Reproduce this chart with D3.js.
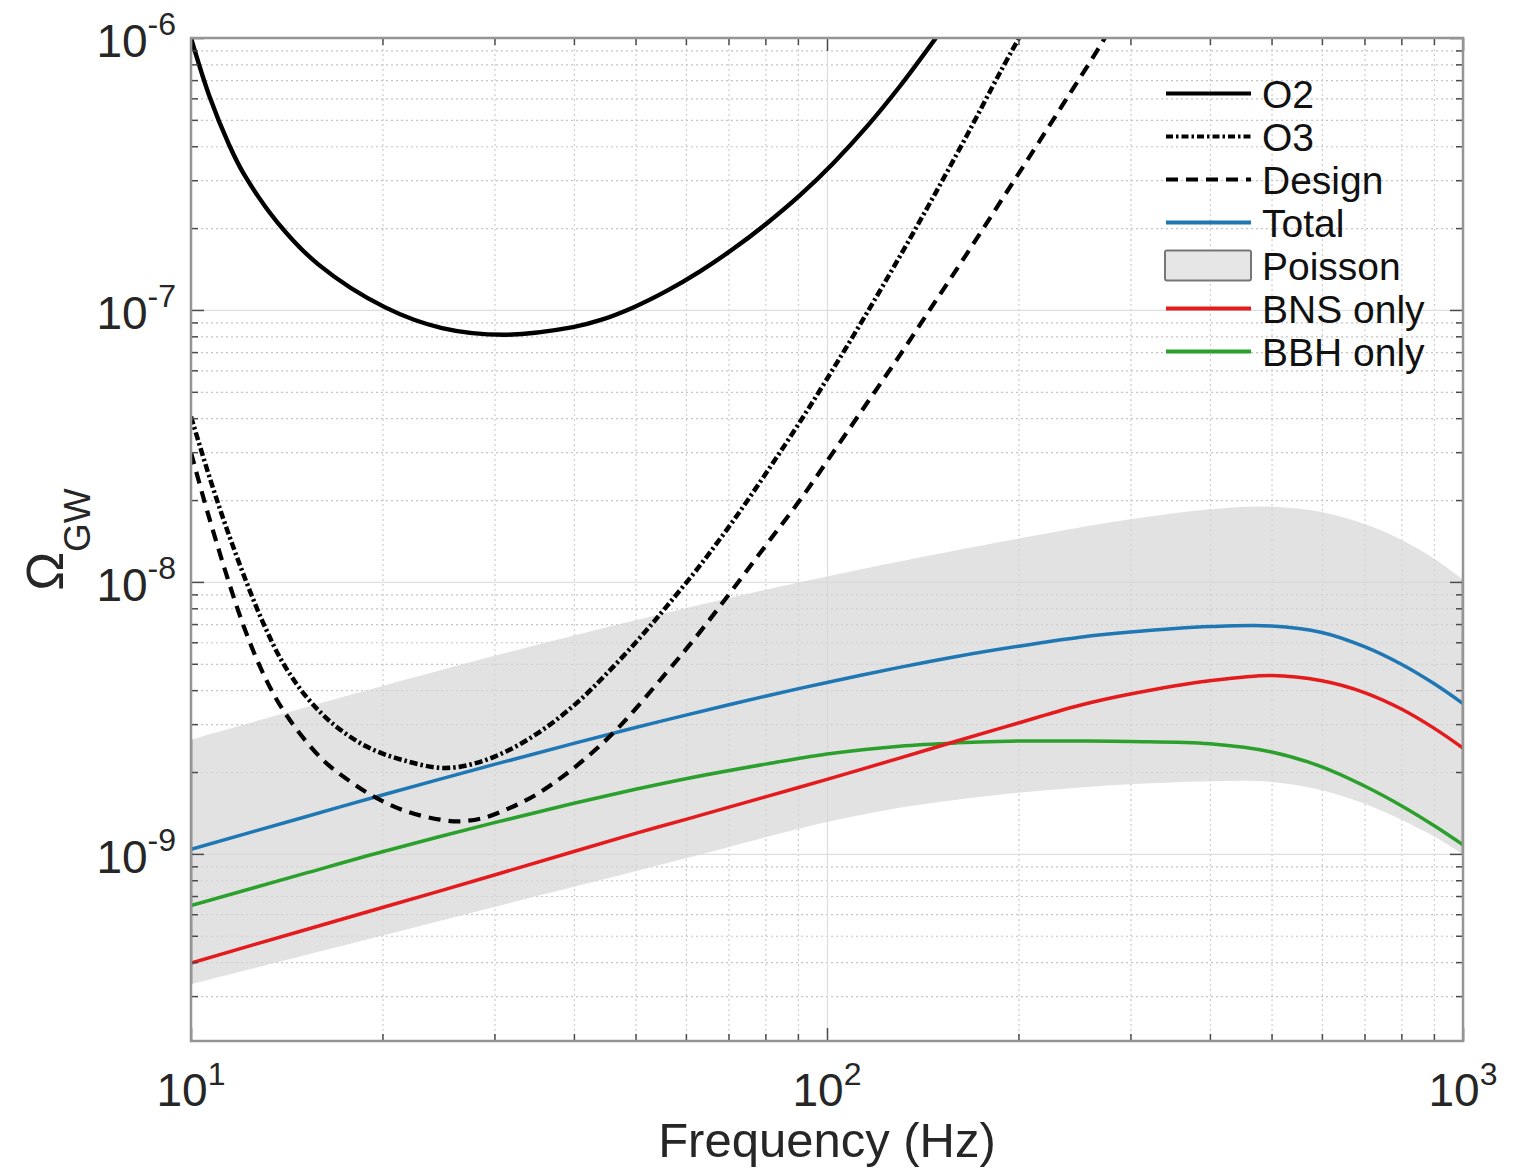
<!DOCTYPE html>
<html>
<head>
<meta charset="utf-8">
<script src="https://cdn.jsdelivr.net/npm/d3@7"></script>
<style>
  body { margin: 0; background: #fff; }
  svg { display: block; font-family: "Liberation Sans", Arial, Helvetica, sans-serif; }
</style>
</head>
<body>
<svg id="chart" width="1522" height="1170"></svg>
<script>
// ---- Data: frequency (Hz) and energy density Omega_GW ----
const freqGrid = [10, 15, 20, 30, 40, 50, 60, 80, 100, 130, 160, 200, 250, 300, 400, 500, 600, 700, 800, 900, 1000];

const totalOmega = [1.04e-9, 1.361e-9, 1.646e-9, 2.133e-9, 2.549e-9, 2.914e-9, 3.239e-9, 3.80e-9, 4.27e-9, 4.85e-9, 5.32e-9,
                    5.80e-9, 6.26e-9, 6.54e-9, 6.85e-9, 6.89e-9, 6.52e-9, 5.78e-9, 4.98e-9, 4.23e-9, 3.57e-9];
const bnsOmega   = [3.97e-10, 5.23e-10, 6.35e-10, 8.36e-10, 1.02e-9, 1.19e-9, 1.34e-9, 1.62e-9, 1.88e-9, 2.25e-9, 2.60e-9,
                    3.03e-9, 3.52e-9, 3.87e-9, 4.33e-9, 4.53e-9, 4.33e-9, 3.92e-9, 3.41e-9, 2.90e-9, 2.45e-9];
const bbhOmega   = [6.46e-10, 8.44e-10, 1.018e-9, 1.303e-9, 1.535e-9, 1.728e-9, 1.89e-9, 2.138e-9, 2.33e-9, 2.49e-9, 2.56e-9,
                    2.60e-9, 2.60e-9, 2.59e-9, 2.54e-9, 2.37e-9, 2.09e-9, 1.777e-9, 1.504e-9, 1.272e-9, 1.08e-9];
const poissonUpper = [2.63e-9, 3.437e-9, 4.144e-9, 5.35e-9, 6.36e-9, 7.235e-9, 8.01e-9, 9.36e-9, 1.048e-8, 1.189e-8, 1.308e-8,
                      1.443e-8, 1.585e-8, 1.699e-8, 1.849e-8, 1.89e-8, 1.805e-8, 1.634e-8, 1.43e-8, 1.22e-8, 1.02e-8];
const poissonLower = [3.32e-10, 4.22e-10, 5.01e-10, 6.38e-10, 7.57e-10, 8.64e-10, 9.63e-10, 1.151e-9, 1.31e-9, 1.478e-9, 1.583e-9,
                      1.677e-9, 1.754e-9, 1.803e-9, 1.85e-9, 1.838e-9, 1.715e-9, 1.528e-9, 1.336e-9, 1.16e-9, 9.96e-10];

// Power-law integrated sensitivity curves
const o2Freq  = [10, 10.69, 11.47, 12.08, 13.67, 15.87, 20.2, 24.81, 31.17, 39.87, 43.97, 49.6, 55.97, 63.15, 71.24,
                 80.37, 90.7, 102.3, 115.4, 130.3, 148.3];
const o2Omega = [1.0e-6, 6.11e-7, 4.066e-7, 3.193e-7, 2.101e-7, 1.468e-7, 1.022e-7, 8.58e-8, 8.11e-8, 8.645e-8, 9.17e-8,
                 1.022e-7, 1.175e-7, 1.387e-7, 1.678e-7, 2.08e-7, 2.643e-7, 3.465e-7, 4.71e-7, 6.66e-7, 1.0e-6];

const o3Freq  = [10, 10.71, 11.38, 12.16, 12.99, 13.97, 15.2, 16.74, 18.89, 21.57, 24.93, 28.13, 31.74, 35.81, 40.42,
                 45.04, 50.51, 55.97, 63.15, 71.24, 80.37, 90.7, 102.3, 115.4, 130.3, 146.9, 165.9, 187.1, 200.4];
const o3Omega = [4.05e-8, 2.40e-8, 1.57e-8, 1.03e-8, 7.06e-9, 5.01e-9, 3.77e-9, 3.0e-9, 2.48e-9, 2.21e-9, 2.07e-9,
                 2.16e-9, 2.42e-9, 2.87e-9, 3.59e-9, 4.60e-9, 6.14e-9, 8.13e-9, 1.15e-8, 1.68e-8, 2.53e-8, 3.88e-8,
                 6.08e-8, 9.7e-8, 1.58e-7, 2.6e-7, 4.38e-7, 7.47e-7, 1.0e-6];

const designFreq  = [10, 10.52, 10.97, 11.45, 12.08, 12.84, 13.64, 14.66, 16.14, 17.78, 19.59, 21.84, 24.63, 26.48,
                     28.81, 31.74, 34.96, 38.49, 42.41, 46.93, 55.97, 63.15, 71.24, 80.37, 90.7, 102.3, 115.4, 130.3,
                     146.9, 165.9, 187.1, 211.1, 238.2, 268.7, 278.6];
const designOmega = [2.99e-8, 1.945e-8, 1.396e-8, 1.009e-8, 6.95e-9, 4.88e-9, 3.69e-9, 2.87e-9, 2.21e-9, 1.849e-9,
                     1.603e-9, 1.432e-9, 1.337e-9, 1.318e-9, 1.355e-9, 1.476e-9, 1.656e-9, 1.932e-9, 2.32e-9, 2.90e-9,
                     4.65e-9, 6.55e-9, 9.45e-9, 1.375e-8, 2.0e-8, 3.0e-8, 4.52e-8, 6.84e-8, 1.046e-7, 1.609e-7,
                     2.486e-7, 3.85e-7, 5.99e-7, 9.34e-7, 1.08e-6];

// Axis ticks
const xMajorTicks = [10, 100, 1000];
const xMajorExp   = ["1", "2", "3"];
const xMinorTicks = [20, 30, 40, 50, 60, 70, 80, 90, 200, 300, 400, 500, 600, 700, 800, 900];
const yMajorTicks = [1e-9, 1e-8, 1e-7, 1e-6];
const yMajorExp   = ["-9", "-8", "-7", "-6"];
const yMinorTicks = [3e-10, 4e-10, 5e-10, 6e-10, 7e-10, 8e-10, 9e-10,
                     2e-9, 3e-9, 4e-9, 5e-9, 6e-9, 7e-9, 8e-9, 9e-9,
                     2e-8, 3e-8, 4e-8, 5e-8, 6e-8, 7e-8, 8e-8, 9e-8,
                     2e-7, 3e-7, 4e-7, 5e-7, 6e-7, 7e-7, 8e-7, 9e-7];

const legendLabels = ["O2", "O3", "Design", "Total", "Poisson", "BNS only", "BBH only"];

// ---- Layout ----
const plot = { left: 191, right: 1463, top: 38, bottom: 1041 };
const svg = d3.select("#chart");

const x = d3.scaleLog().domain([10, 1000]).range([plot.left, plot.right]);
const y = d3.scaleLog().domain([Math.pow(10, -9.688), 1e-6]).range([plot.bottom, plot.top]);

const plotW = plot.right - plot.left, plotH = plot.bottom - plot.top;

svg.append("defs").append("clipPath").attr("id", "plotClip")
  .append("rect").attr("x", plot.left).attr("y", plot.top).attr("width", plotW).attr("height", plotH);

// ---- Grid ----
function styleGrid(g, color, dash) {
  g.select(".domain").remove();
  g.selectAll(".tick line").attr("stroke", color).attr("stroke-width", 1.2)
    .attr("stroke-dasharray", dash);
}
const grid = svg.append("g");
grid.append("g").attr("transform", `translate(0,${plot.bottom})`)
  .call(d3.axisBottom(x).tickValues(xMinorTicks).tickSize(-plotH).tickFormat(""))
  .call(g => styleGrid(g, "#cdcdcd", "2,3"));
grid.append("g").attr("transform", `translate(${plot.left},0)`)
  .call(d3.axisLeft(y).tickValues(yMinorTicks).tickSize(-plotW).tickFormat(""))
  .call(g => styleGrid(g, "#c4c4c4", "2,3"));
grid.append("g").attr("transform", `translate(0,${plot.bottom})`)
  .call(d3.axisBottom(x).tickValues(xMajorTicks).tickSize(-plotH).tickFormat(""))
  .call(g => styleGrid(g, "#dedede", null));
grid.append("g").attr("transform", `translate(${plot.left},0)`)
  .call(d3.axisLeft(y).tickValues(yMajorTicks).tickSize(-plotW).tickFormat(""))
  .call(g => styleGrid(g, "#dedede", null));

// ---- Data layer ----
const data = svg.append("g").attr("clip-path", "url(#plotClip)");
const smooth = d3.curveCatmullRom.alpha(0.5);

const band = freqGrid.map((f, i) => ({ f, lo: poissonLower[i], hi: poissonUpper[i] }));
data.append("path")
  .attr("d", d3.area().x(d => x(d.f)).y0(d => y(d.lo)).y1(d => y(d.hi)).curve(smooth)(band))
  .attr("fill", "#d6d6d6").attr("fill-opacity", 0.7);

// band end edges
const bandEdge = [0, freqGrid.length - 1];
data.selectAll("line.bandEdge").data(bandEdge).join("line")
  .attr("x1", i => x(freqGrid[i])).attr("x2", i => x(freqGrid[i]))
  .attr("y1", i => y(poissonLower[i])).attr("y2", i => y(poissonUpper[i]))
  .attr("stroke", "#6a6a6a").attr("stroke-width", 2.5);

const line = d3.line().x(d => x(d[0])).y(d => y(d[1])).curve(smooth);
const zip = (a, b) => a.map((v, i) => [v, b[i]]);

const series = [
  { f: freqGrid, v: bbhOmega,   color: "#2ca02c", width: 3.5, dash: null },
  { f: freqGrid, v: bnsOmega,   color: "#e41a1c", width: 3.5, dash: null },
  { f: freqGrid, v: totalOmega, color: "#1f77b4", width: 3.5, dash: null },
  { f: designFreq, v: designOmega, color: "#000", width: 4.2, dash: "12,8" },
  { f: o3Freq, v: o3Omega, color: "#000", width: 4.5, dash: "8,3,2.5,3" },
  { f: o2Freq, v: o2Omega, color: "#000", width: 4.4, dash: null }
];
series.forEach(s => {
  data.append("path")
    .attr("d", line(zip(s.f, s.v)))
    .attr("fill", "none").attr("stroke", s.color).attr("stroke-width", s.width)
    .attr("stroke-dasharray", s.dash).attr("stroke-linejoin", "round");
});

// ---- Axes box and ticks ----
const axes = svg.append("g");
function styleTicks(g) {
  g.select(".domain").remove();
  g.selectAll(".tick line").attr("stroke", "#4a4a4a").attr("stroke-width", 1.5);
}
[
  [d3.axisBottom(x), `translate(0,${plot.bottom})`, xMinorTicks, -7],
  [d3.axisBottom(x), `translate(0,${plot.bottom})`, xMajorTicks, -13],
  [d3.axisTop(x), `translate(0,${plot.top})`, xMinorTicks, -7],
  [d3.axisTop(x), `translate(0,${plot.top})`, xMajorTicks, -13],
  [d3.axisLeft(y), `translate(${plot.left},0)`, yMinorTicks, -7],
  [d3.axisLeft(y), `translate(${plot.left},0)`, yMajorTicks, -13],
  [d3.axisRight(y), `translate(${plot.right},0)`, yMinorTicks, -7],
  [d3.axisRight(y), `translate(${plot.right},0)`, yMajorTicks, -13]
].forEach(([ax, tr, vals, size]) => {
  axes.append("g").attr("transform", tr)
    .call(ax.tickValues(vals).tickSize(size).tickSizeOuter(0).tickFormat(""))
    .call(styleTicks);
});
axes.append("rect")
  .attr("x", plot.left).attr("y", plot.top).attr("width", plotW).attr("height", plotH)
  .attr("fill", "none").attr("stroke", "#959595").attr("stroke-width", 2.5);

// ---- Tick labels (powers of ten) ----
const textColor = "#262626";
xMajorTicks.forEach((v, i) => {
  const t = svg.append("text")
    .attr("x", x(v)).attr("y", plot.bottom + 65)
    .attr("text-anchor", "middle").attr("fill", textColor);
  t.append("tspan").attr("font-size", 46).text("10");
  t.append("tspan").attr("font-size", 32).attr("dy", -21).text(xMajorExp[i]);
});
yMajorTicks.forEach((v, i) => {
  const t = svg.append("text")
    .attr("x", plot.left - 15).attr("y", y(v) + 19)
    .attr("text-anchor", "end").attr("fill", textColor);
  t.append("tspan").attr("font-size", 46).text("10");
  t.append("tspan").attr("font-size", 32).attr("dy", -22).text(yMajorExp[i]);
});

// ---- Axis titles ----
svg.append("text")
  .attr("x", x(100)).attr("y", 1157)
  .attr("text-anchor", "middle").attr("font-size", 49).attr("fill", textColor)
  .text("Frequency (Hz)");

const yTitle = svg.append("text")
  .attr("transform", `translate(63,${(plot.top + plot.bottom) / 2}) rotate(-90)`)
  .attr("text-anchor", "middle").attr("fill", textColor);
yTitle.append("tspan").attr("font-size", 52).text("Ω");
yTitle.append("tspan").attr("font-size", 37).attr("dy", 27).text("GW");

// ---- Legend ----
const legendStyles = [
  { type: "line", color: "#000", dash: null },
  { type: "line", color: "#000", dash: "7,3,2.5,3" },
  { type: "line", color: "#000", dash: "12,8" },
  { type: "line", color: "#1f77b4", dash: null },
  { type: "patch" },
  { type: "line", color: "#e41a1c", dash: null },
  { type: "line", color: "#2ca02c", dash: null }
];
const legend = svg.append("g");
legendLabels.forEach((label, i) => {
  const cy = 93.5 + i * 43;
  const st = legendStyles[i];
  if (st.type === "patch") {
    legend.append("rect").attr("x", 1165).attr("y", cy - 15).attr("width", 86).attr("height", 30)
      .attr("rx", 2).attr("fill", "#e6e6e6").attr("stroke", "#777").attr("stroke-width", 2);
  } else {
    legend.append("line").attr("x1", 1166).attr("x2", 1251).attr("y1", cy).attr("y2", cy)
      .attr("stroke", st.color).attr("stroke-width", 4).attr("stroke-dasharray", st.dash);
  }
  legend.append("text").attr("x", 1262).attr("y", cy).attr("dy", "0.36em")
    .attr("font-size", 39).attr("fill", "#111").text(label);
});
</script>
</body>
</html>
